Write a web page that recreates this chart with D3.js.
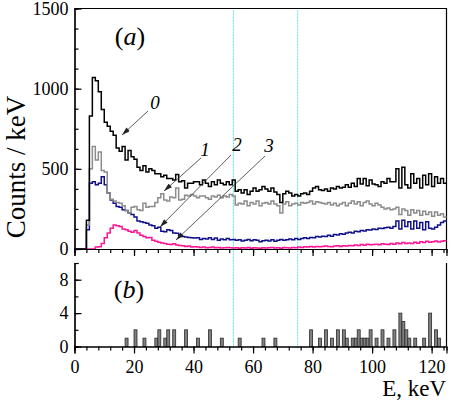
<!DOCTYPE html>
<html>
<head>
<meta charset="utf-8">
<script src="https://cdn.jsdelivr.net/npm/d3@7"></script>
<style>
body { margin: 0; background: #fff; }
</style>
</head>
<body>
<div id="chart"></div>
<script>
// spectra, counts per 1 keV bin, bins 0..124 keV
const curve0 = [0,0,0,0,180,830,1070,1050,980,870,790,765,735,710,630,610,640,555,615,575,
  560,510,490,520,480,500,490,470,470,450,460,440,440,430,465,420,425,380,410,410,
  420,420,400,430,410,390,420,400,430,410,400,420,400,430,360,370,350,370,340,360,
  380,360,370,390,375,360,380,355,340,290,345,360,350,330,340,330,345,350,340,360,
  380,390,370,365,375,360,380,375,390,380,385,400,385,410,390,440,405,440,395,430,
  405,400,390,420,410,440,420,420,500,380,510,400,380,470,410,440,380,460,400,470,
  390,450,410,440,410];
const curve1 = [0,0,0,0,150,500,640,555,605,490,480,350,310,300,290,285,270,240,225,260,
  265,245,240,285,260,265,265,290,320,345,305,300,325,320,380,305,310,335,330,340,
  330,320,330,330,320,310,330,325,335,320,330,325,340,330,275,285,280,300,270,290,
  280,300,270,285,290,280,300,280,270,225,280,295,270,280,285,275,290,285,290,300,
  280,295,290,285,280,290,275,285,270,280,290,270,285,300,280,295,270,290,300,280,
  270,285,275,260,250,255,245,250,260,215,250,240,210,245,225,240,210,235,215,230,
  205,230,210,220,200];
const curve2 = [0,0,0,0,120,410,420,400,410,450,400,350,305,285,265,260,245,240,225,215,
  200,175,170,165,160,150,145,130,135,110,108,120,115,100,98,85,78,75,72,70,
  68,70,60,65,62,70,60,68,55,62,58,65,58,60,55,58,50,55,60,52,
  58,55,45,52,55,50,58,48,55,60,55,58,62,58,65,60,65,70,65,72,
  70,78,75,80,78,85,80,90,88,95,92,100,105,100,110,108,115,112,120,118,
  125,122,130,128,132,135,130,140,175,125,180,140,170,125,175,130,165,120,170,130,
  125,135,150,165,175];
const curve3 = [0,0,0,0,0,0,0,12,14,35,70,100,130,150,145,140,125,120,110,105,
  115,100,85,78,70,72,55,48,42,38,35,30,28,32,25,22,20,15,18,12,
  14,12,10,12,8,10,12,8,10,6,8,10,8,6,8,5,8,6,10,5,
  8,6,4,8,6,8,10,6,8,5,10,8,6,10,8,12,10,14,12,15,
  12,16,14,15,18,16,14,18,20,16,20,18,22,20,25,22,28,24,30,26,
  28,30,26,32,30,28,35,30,38,32,40,35,38,34,42,36,45,40,48,42,
  46,50,44,48,52];
// panel (b) counts per bin
const countsB = [0,0,0,0,0,0,0,0,0,0,0,0,0,0,0,0,0,1,0,0,
  2,0,0,1,0,0,0,1,2,0,1,2,0,2,0,0,0,2,0,0,
  0,1,0,0,0,2,0,0,0,1,0,0,0,0,0,1,0,0,0,0,
  0,0,0,1,0,0,0,1,0,0,0,0,0,0,0,0,0,0,0,2,
  0,0,1,0,2,0,1,0,2,0,2,1,0,1,1,2,1,1,1,2,
  0,1,0,2,0,1,0,2,0,4,3,2,1,0,1,0,0,1,0,4,
  0,2,1,0,0];

const xTicks = [0,20,40,60,80,100,120];
const yTicksA = [0,500,1000,1500];
const yTicksB = [0,4,8];
const cutLines = [53.4, 75];
const curveLabels = ["0","1","2","3"];

const serif = "Liberation Serif, Tinos, DejaVu Serif, Noto Serif, serif";

const svg = d3.select("#chart").append("svg")
    .attr("width", 450)
    .attr("height", 402);

const x = d3.scaleLinear().domain([0, 125]).range([74.5, 446.5]);
const yA = d3.scaleLinear().domain([0, 1500]).range([249, 8.5]);
const yB = d3.scaleLinear().domain([0, 10]).range([346.5, 263]);

// step line over bin edges
function steps(vals, y) {
    const pts = vals.map((v, i) => [i, v]);
    pts.push([vals.length, vals[vals.length - 1]]);
    return d3.line().x(d => x(d[0])).y(d => y(d[1])).curve(d3.curveStepAfter)(pts);
}

// cyan dotted markers
svg.selectAll(".cut").data(cutLines).enter().append("line")
    .attr("x1", d => x(d)).attr("x2", d => x(d))
    .attr("y1", yA(1500) + 2).attr("y2", yB(0) + 2)
    .attr("stroke", "#55e2ee")
    .attr("stroke-width", 1)
    .attr("stroke-dasharray", "2,1");

// panel frames
svg.append("path")
    .attr("d", `M${x(0)},${yA(1500)}H${x(125)}V${yA(0)}`)
    .attr("fill", "none").attr("stroke", "#000").attr("stroke-width", 1.2);
svg.append("line")
    .attr("x1", x(125)).attr("x2", x(125)).attr("y1", yB(10)).attr("y2", yB(0))
    .attr("stroke", "#000").attr("stroke-width", 1.2);

// spectra
const series = [
    {v: curve3, c: "#ff1493"},
    {v: curve2, c: "#10108c"},
    {v: curve1, c: "#8c8c8c"},
    {v: curve0, c: "#000000"}
];
svg.selectAll(".spec").data(series).enter().append("path")
    .attr("d", d => steps(d.v, yA))
    .attr("fill", "none")
    .attr("stroke", d => d.c)
    .attr("stroke-width", 1.5);

// panel (b) bars
svg.selectAll(".bar").data(countsB.map((v, i) => ({i, v})).filter(d => d.v > 0))
    .enter().append("rect")
    .attr("x", d => x(d.i))
    .attr("width", x(1) - x(0))
    .attr("y", d => yB(d.v))
    .attr("height", d => yB(0) - yB(d.v))
    .attr("fill", "#808080")
    .attr("stroke", "#2a2a2a")
    .attr("stroke-width", 0.8);

// axes
function styleAxis(g) {
    g.attr("font-family", serif);
    g.selectAll("path,line").attr("stroke", "#000").attr("stroke-width", 1.2);
    g.selectAll("text").attr("font-size", 18).attr("fill", "#000")
        .attr("font-family", serif);
}
const minorX = d3.range(0, 125, 4);
const plain = d3.format("d");

svg.append("g").attr("transform", `translate(0,${yA(0)})`)
    .call(d3.axisBottom(x).tickValues(minorX).tickSize(4).tickFormat("")).call(styleAxis);
svg.append("g").attr("transform", `translate(0,${yA(0)})`)
    .call(d3.axisBottom(x).tickValues(xTicks).tickSize(7).tickFormat("")).call(styleAxis);

svg.append("g").attr("transform", `translate(0,${yB(0)})`)
    .call(d3.axisBottom(x).tickValues(minorX).tickSize(4).tickFormat("")).call(styleAxis);
svg.append("g").attr("transform", `translate(0,${yB(0)})`)
    .call(d3.axisBottom(x).tickValues(xTicks).tickSize(7).tickPadding(7).tickFormat(plain)).call(styleAxis);

svg.append("g").attr("transform", `translate(${x(0)},0)`)
    .call(d3.axisLeft(yA).tickValues(d3.range(0, 1501, 125)).tickSize(-4).tickFormat("")).call(styleAxis);
svg.append("g").attr("transform", `translate(${x(0)},0)`)
    .call(d3.axisLeft(yA).tickValues(yTicksA).tickSizeInner(-7).tickSizeOuter(0).tickPadding(6).tickFormat(plain)).call(styleAxis);

svg.append("g").attr("transform", `translate(${x(0)},0)`)
    .call(d3.axisLeft(yB).tickValues(d3.range(0, 11, 2)).tickSize(-4).tickFormat("")).call(styleAxis);
svg.append("g").attr("transform", `translate(${x(0)},0)`)
    .call(d3.axisLeft(yB).tickValues(yTicksB).tickSizeInner(-7).tickSizeOuter(0).tickPadding(6).tickFormat(plain)).call(styleAxis);

// titles
svg.append("text")
    .text("Counts / keV")
    .attr("transform", "translate(25,167) rotate(-90)")
    .attr("text-anchor", "middle")
    .attr("font-family", serif)
    .attr("font-size", 27);
svg.append("text")
    .text("E, keV")
    .attr("x", 446).attr("y", 396)
    .attr("text-anchor", "end")
    .attr("font-family", serif)
    .attr("font-size", 23);

function panelTag(letter, px, py) {
    const t = svg.append("text").attr("x", px).attr("y", py)
        .attr("text-anchor", "middle").attr("font-size", 26)
        .attr("font-family", serif);
    t.append("tspan").text("(");
    t.append("tspan").text(letter).attr("font-style", "italic");
    t.append("tspan").text(")");
}
panelTag("a", 130, 45);
panelTag("b", 129, 298);

// curve labels with arrows
svg.append("defs").append("marker")
    .attr("id", "head")
    .attr("viewBox", "0 0 10 6")
    .attr("refX", 10).attr("refY", 3)
    .attr("markerWidth", 9).attr("markerHeight", 5)
    .attr("markerUnits", "userSpaceOnUse")
    .attr("orient", "auto")
    .append("path").attr("d", "M0,0L10,3L0,6Z").attr("fill", "#222");

const labelPos = [
    {t: curveLabels[0], lx: 155, ly: 109, x1: 148, y1: 111, x2: 122, y2: 135},
    {t: curveLabels[1], lx: 205, ly: 156, x1: 201, y1: 158, x2: 164, y2: 191},
    {t: curveLabels[2], lx: 237, ly: 151, x1: 231, y1: 155, x2: 160, y2: 227},
    {t: curveLabels[3], lx: 269, ly: 152, x1: 265, y1: 156, x2: 176, y2: 240}
];
svg.selectAll(".arr").data(labelPos).enter().append("line")
    .attr("x1", d => d.x1).attr("y1", d => d.y1)
    .attr("x2", d => d.x2).attr("y2", d => d.y2)
    .attr("stroke", "#333").attr("stroke-width", 0.8)
    .attr("marker-end", "url(#head)");
svg.selectAll(".lab").data(labelPos).enter().append("text")
    .text(d => d.t)
    .attr("x", d => d.lx).attr("y", d => d.ly)
    .attr("text-anchor", "middle")
    .attr("font-family", serif)
    .attr("font-size", 19)
    .attr("font-style", "italic");
</script>
</body>
</html>
